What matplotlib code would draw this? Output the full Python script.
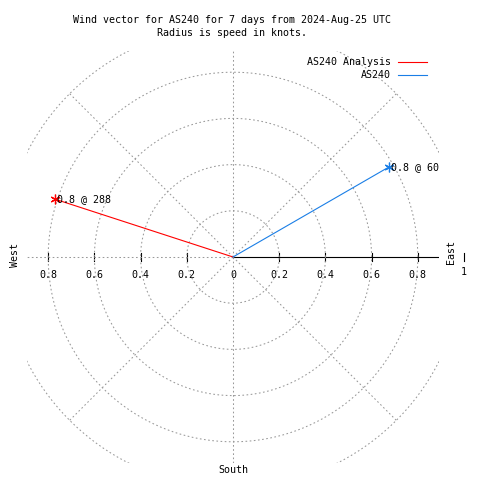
import numpy as np
import matplotlib
matplotlib.use('Agg')
import matplotlib.pyplot as plt
from matplotlib.lines import Line2D

# wind data: compass direction (deg, clockwise from north) and speed (knots)
series_names = ['AS240 Analysis', 'AS240']
directions = [288, 60]
speeds = [0.81, 0.78]
point_labels = ['0.8 @ 288', '0.8 @ 60']
colors = ['#ff0000', '#1a7ee6']

rings = [0.2, 0.4, 0.6, 0.8, 1.0]
spokes = [45, 90, 135, 180, 225, 270, 315]
right_ticks = [0.2, 0.4, 0.6, 0.8]
right_labels = ['0.2', '0.4', '0.6', '0.8']
left_ticks = [-0.8, -0.6, -0.4, -0.2]
left_labels = ['0.8', '0.6', '0.4', '0.2']

plt.rcParams['font.family'] = ['DejaVu Sans Mono']
fs = 7.2
grey = '#999999'
px = 1 / 231.0  # data units per pixel

fig = plt.figure(figsize=(4.8, 4.8), dpi=100)
ax = fig.add_axes([27 / 480, 17 / 480, 412 / 480, 412 / 480])
lim = 206 / 231
ax.set_xlim(-lim, lim)
ax.set_ylim(-lim, lim)
ax.axis('off')

# polar grid
t = np.linspace(0, 2 * np.pi, 500)
for r in rings:
    ax.plot(r * np.cos(t), r * np.sin(t), color=grey, lw=0.75, dashes=(1.6, 2.4), zorder=4)
for a in spokes:
    ax.plot([0, np.cos(np.radians(a))], [0, np.sin(np.radians(a))], color=grey, lw=0.75,
            dashes=(1.6, 2.4), zorder=4)

# radial axis
ax.plot([0, 1.0], [0, 0], color='black', lw=0.8, zorder=3)
for x in right_ticks + left_ticks + [1.0]:
    ax.plot([x, x], [-4 * px, 4 * px], color='black', lw=0.8, zorder=3, clip_on=False)
ax.text(0, -18 * px, '0', fontsize=fs, ha='center', va='center', zorder=2)
for x, lab in zip(right_ticks + left_ticks, right_labels + left_labels):
    ax.text(x, -18 * px, lab, fontsize=fs, ha='center', va='center', zorder=2)
ax.text(1.0, -15 * px, '1', fontsize=fs, ha='center', va='center', clip_on=False)

# compass labels
ax.text(-218 * px, 2 * px, 'West', fontsize=fs, rotation=90, ha='center', va='center')
ax.text(218 * px, 5 * px, 'East', fontsize=fs, rotation=90, ha='center', va='center')
ax.text(0, -213 * px, 'South', fontsize=fs, ha='center', va='center')

# wind vectors
for name, d, s, lab, c in zip(series_names, directions, speeds, point_labels, colors):
    th = np.radians(d)
    xs = [0, s * np.sin(th)]
    ys = [0, s * np.cos(th)]
    ax.plot(xs, ys, color=c, lw=0.8, zorder=5)
    ax.plot(xs[-1], ys[-1], marker=(6, 2, 0), color=c, ms=7, mew=0.9, zorder=5)
    ax.text(xs[-1] + 2 * px, ys[-1], lab, fontsize=fs, ha='left', va='center', zorder=6)

# legend
for i, (name, c) in enumerate(zip(series_names, colors)):
    yy = 1 - (62 + 13 * i) / 480
    fig.text(391 / 480, yy, name, fontsize=fs, ha='right', va='center')
    fig.add_artist(Line2D([398 / 480, 427 / 480], [yy, yy], color=c, lw=0.8))

fig.text(232 / 480, 1 - 20 / 480, 'Wind vector for AS240 for 7 days from 2024-Aug-25 UTC',
         fontsize=fs, ha='center', va='center')
fig.text(232 / 480, 1 - 33 / 480, 'Radius is speed in knots.', fontsize=fs, ha='center', va='center')

fig.savefig('out.png', dpi=100, facecolor='white')
